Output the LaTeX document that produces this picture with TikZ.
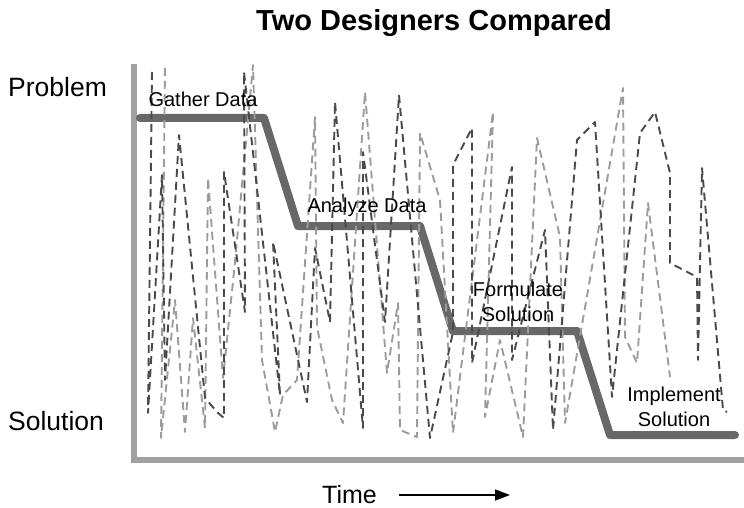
\documentclass[tikz,border=0pt]{standalone}
\usepackage{fontspec}
\setmainfont{Liberation Sans}
\usetikzlibrary{arrows.meta}
\definecolor{axisgray}{HTML}{A0A0A0}
\definecolor{procgray}{HTML}{686868}
\definecolor{darkline}{HTML}{4A4A4A}
\definecolor{lightline}{HTML}{9C9C9C}
\begin{document}
\begin{tikzpicture}[x=1pt,y=-1pt,
  lbl/.style={font=\fontsize{20}{25}\selectfont, align=center, inner sep=0pt},
  big/.style={font=\fontsize{26.5}{30}\selectfont, inner sep=0pt, anchor=base west},
  axisline/.style={line width=6pt, draw=axisgray},
  process/.style={line width=8pt, draw=procgray, line cap=round, line join=round},
  darkdash/.style={draw=darkline, line width=1.9pt, dash pattern=on 8pt off 5pt, line join=round},
  lightdash/.style={draw=lightline, line width=1.9pt, dash pattern=on 8pt off 5pt, line join=round},
]
\useasboundingbox (0,0) rectangle (744,508);

% axes
\coordinate (ytop) at (134,64);
\coordinate (origin) at (134,460);
\coordinate (xend) at (744,460);
\draw[axisline] (ytop) -- (origin) -- (xend);

% process steps line
\coordinate (p1) at (140,118);
\coordinate (p2) at (264,118);
\coordinate (p3) at (298,226);
\coordinate (p4) at (420,226);
\coordinate (p5) at (453,331);
\coordinate (p6) at (577,331);
\coordinate (p7) at (610,435);
\coordinate (p8) at (735,435);
\draw[process] (p1) -- (p2) -- (p3) -- (p4) -- (p5) -- (p6) -- (p7) -- (p8);

% light designer path
\draw[lightdash] (165,68) -- (161,438) -- (175,300) -- (185,432) -- (193,318) -- (205,428)
  -- (208,178) -- (223,378) -- (235,262) -- (253,65) -- (262,360) -- (275,432)
  -- (283,395) -- (297,380) -- (315,117) -- (317,327) -- (332,400) -- (343,423)
  -- (365,92) -- (387,373) -- (398,303) -- (400,430) -- (417,437) -- (420,133)
  -- (440,200) -- (453,433) -- (493,112) -- (485,417) -- (500,340) -- (523,437)
  -- (537,138) -- (560,237) -- (565,423) -- (623,88) -- (625,337) -- (637,363)
  -- (648,203) -- (670,377);

% dark designer path
\draw[darkdash] (152,72) -- (148,413) -- (162,175) -- (165,380) -- (179,135) -- (205,398)
  -- (218,413) -- (224,418) -- (224,172) -- (245,312) -- (244,72) -- (280,395)
  -- (273,242) -- (307,402) -- (315,248) -- (330,322) -- (335,102) -- (363,428)
  -- (363,152) -- (385,322) -- (399,95) -- (430,438) -- (453,332) -- (453,165)
  -- (472,128) -- (472,363) -- (512,167) -- (512,360) -- (545,230) -- (553,430)
  -- (577,140) -- (595,122) -- (612,397) -- (640,133) -- (655,112) -- (670,173)
  -- (670,263) -- (697,277) -- (698,360) -- (702,168) -- (723,410) -- (727,412);

% step labels
\node[lbl, anchor=base] (gather) at (203,107) {Gather Data};
\node[lbl, anchor=base] (analyze) at (367,212) {Analyze Data};
\node[lbl] (formulate) at (518,302) {Formulate\\Solution};
\node[lbl] (implement) at (674,407) {Implement\\Solution};

% axis labels
\node[big] (problem) at (8,97) {Problem};
\node[big] (solution) at (8,430) {Solution};
\node[font=\fontsize{25}{30}\selectfont, inner sep=0pt, anchor=base west] (time) at (322,503) {Time};
\coordinate (tstart) at (399,495);
\coordinate (tend) at (510,495);
\draw[line width=1.5pt, -{Triangle[length=15pt,width=11pt]}] (tstart) -- (tend);

% title
\node[font=\fontsize{29}{34}\selectfont\bfseries, inner sep=0pt, anchor=base] (title) at (434,31) {Two Designers Compared};
\end{tikzpicture}
\end{document}
